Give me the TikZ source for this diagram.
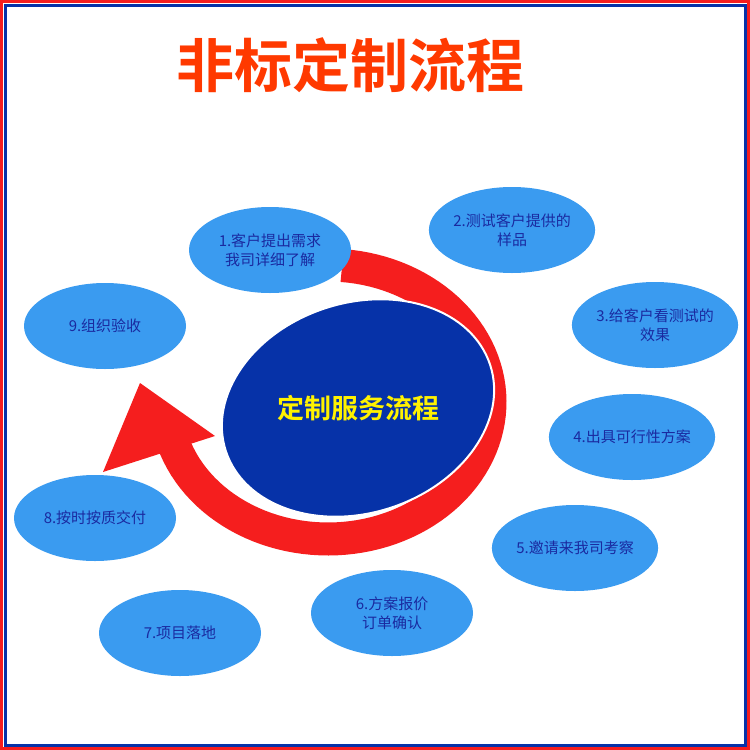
\documentclass[tikz,border=0pt]{standalone}
\usepackage{fontspec}
\setmainfont{Noto Sans CJK SC}
\newfontfamily\cjkb{Noto Sans CJK SC Bold}
\usetikzlibrary{shapes.geometric}
\definecolor{lb}{HTML}{3A9BF0}
\definecolor{nv}{HTML}{1A2AA0}
\definecolor{db}{HTML}{0632A8}
\definecolor{ar}{HTML}{F51E1E}
\tikzset{bub/.style={ellipse,fill=lb,minimum width=162,minimum height=86,inner sep=0,text=nv,font=\fontsize{15}{19}\selectfont,align=center}}
\begin{document}
\begin{tikzpicture}[x=1pt,y=-1pt]
\useasboundingbox (0,0) rectangle (750,750);
\fill[white] (0,0) rectangle (750,750);
\draw[ar,line width=3] (1.5,1.5) rectangle (748.5,748.5);
\draw[db,line width=3] (5,5) rectangle (745,745);
\node[font=\cjkb\fontsize{58}{64}\selectfont,text=orange!45!red] (t) at (350,65) {非标定制流程};
% red arrow
\draw[ar,line width=33] plot[domain=-166:85,samples=90] ({328+162*cos(\x)},{402-137*sin(\x)});
\fill[ar] (140,383) -- (103,472) -- (215,436) -- cycle;
\node[ellipse,fill=db,draw=white,line width=2,minimum width=278,minimum height=210,rotate=18] (c) at (358,408) {};
\node[text=yellow,font=\cjkb\fontsize{27}{32}\selectfont] at (c) {定制服务流程};
\node[bub] (n1) at (270,250) {1.客户提出需求\\我司详细了解};
\node[bub] (n2) at (512,230) {2.测试客户提供的\\样品};
\node[bub] (n3) at (655,325) {3.给客户看测试的\\效果};
\node[bub] (n4) at (632,437) {4.出具可行性方案};
\node[bub] (n5) at (575,548) {5.邀请来我司考察};
\node[bub] (n6) at (392,613) {6.方案报价\\订单确认};
\node[bub] (n7) at (180,633) {7.项目落地};
\node[bub] (n8) at (95,518) {8.按时按质交付};
\node[bub] (n9) at (105,326) {9.组织验收};
\end{tikzpicture}
\end{document}
